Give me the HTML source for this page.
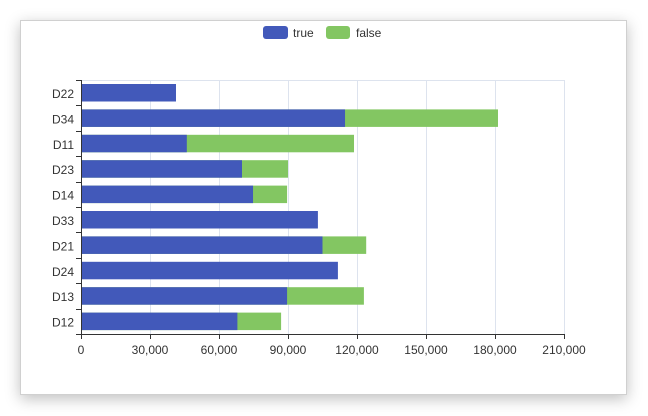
<!DOCTYPE html><html><head><style>body{margin:0;background:#fff;font-family:"Liberation Sans",sans-serif}</style></head><body>
<div style="position:absolute;left:20px;top:20px;width:607px;height:375px;background:#fff;border:1px solid #d0d0d0;box-sizing:border-box;box-shadow:0 4px 14px rgba(0,0,0,0.25)"></div>
<svg width="648" height="416" style="position:absolute;left:0;top:0" font-family="Liberation Sans, sans-serif" font-size="12" fill="#333">
<rect x="263" y="26" width="25" height="13" rx="3" fill="#4259ba"/><text x="293" y="37" font-size="12">true</text>
<rect x="326" y="26" width="24" height="13" rx="3" fill="#83c662"/><text x="356" y="37" font-size="12">false</text>
<g stroke="#dde3ee" stroke-width="1">
<line x1="81" y1="80.5" x2="564" y2="80.5"/>
<line x1="150.5" y1="80" x2="150.5" y2="334"/><line x1="219.5" y1="80" x2="219.5" y2="334"/><line x1="288.5" y1="80" x2="288.5" y2="334"/><line x1="357.5" y1="80" x2="357.5" y2="334"/><line x1="426.5" y1="80" x2="426.5" y2="334"/><line x1="495.5" y1="80" x2="495.5" y2="334"/><line x1="564.5" y1="80" x2="564.5" y2="334"/>
</g>
<g id="bars"></g>
<line x1="81.5" y1="80" x2="81.5" y2="334" stroke="#333"/>
<line x1="81" y1="334.5" x2="565" y2="334.5" stroke="#333"/>
<g id="ticks" stroke="#333"></g>
<g id="labels" text-anchor="end"></g>
<g text-anchor="middle">
<text x="81" y="354">0</text><text x="150" y="354">30,000</text><text x="219" y="354">60,000</text><text x="288" y="354">90,000</text><text x="357" y="354">120,000</text><text x="426" y="354">150,000</text><text x="495" y="354">180,000</text><text x="564" y="354">210,000</text>
</g>
</svg>
<script>
var d=[["D22",41300,0],["D34",114800,181300],["D11",46000,118700],["D23",70000,90000],["D14",74800,89600],["D33",103000,0],["D21",105000,124000],["D24",111700,0],["D13",89600,123000],["D12",68000,87000]];
var ns="http://www.w3.org/2000/svg",b=document.getElementById("bars"),t=document.getElementById("ticks"),l=document.getElementById("labels");
function el(p,n,a,tx){var e=document.createElementNS(ns,n);for(var k in a)e.setAttribute(k,a[k]);if(tx)e.textContent=tx;p.appendChild(e);}
var s=483/210000,h=25.4;
for(var i=0;i<d.length;i++){var y=80+i*h;
 if(d[i][2])el(b,"rect",{x:81,y:y+4,width:d[i][2]*s,height:17.5,fill:"#83c662"});
 el(b,"rect",{x:81,y:y+4,width:d[i][1]*s,height:17.5,fill:"#4259ba"});
 el(l,"text",{x:74,y:y+18},d[i][0]);
 el(t,"line",{x1:76,y1:Math.round(y)+0.5,x2:81,y2:Math.round(y)+0.5});}
el(t,"line",{x1:76,y1:334.5,x2:81,y2:334.5});
for(var j=0;j<8;j++){var x=Math.round(81+j*69)+0.5;el(t,"line",{x1:x,y1:334,x2:x,y2:339});}
</script>
</body></html>
